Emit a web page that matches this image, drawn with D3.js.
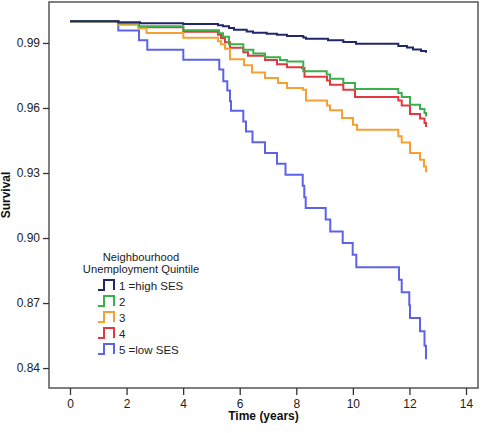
<!DOCTYPE html>
<html><head><meta charset="utf-8">
<script src="https://cdn.jsdelivr.net/npm/d3@7"></script>
<style>body{margin:0;background:#fff}svg{display:block}text{font-family:"Liberation Sans",Arial,sans-serif}</style>
</head><body><svg id="c" width="481" height="433"></svg>
<script>
const seriesNames = ["1 =high SES","2","3","4","5 =low SES"];
const seriesColors = ["#22266a","#3bb04a","#f5a030","#e03a40","#5c63e6"];
const xTicks = [0,2,4,6,8,10,12,14];
const yTicks = [0.84,0.87,0.90,0.93,0.96,0.99];

const t1 = [0,1.708,2.475,4.006,5.232,5.409,5.621,5.798,6.247,6.470,6.954,7.318,7.672,8.248,8.343,9.121,9.662,10.111,11.607,11.914,12.126,12.409,12.586];
const s1 = [1,0.9995,0.9991,0.9987,0.9982,0.9977,0.9969,0.9961,0.9953,0.9947,0.9943,0.9938,0.9932,0.9925,0.9920,0.9913,0.9905,0.9896,0.9886,0.9879,0.9870,0.9863,0.9855];
const t2 = [0,1.708,2.439,4.006,5.268,5.409,5.621,6.127,6.480,6.894,7.424,7.672,8.248,9.075,9.192,9.662,10.076,11.607,11.727,12.020,12.374,12.533,12.586];
const s2 = [1,0.9991,0.9977,0.9959,0.9945,0.9929,0.9894,0.9869,0.9851,0.9834,0.9821,0.9814,0.9769,0.9754,0.9735,0.9715,0.9688,0.9669,0.9651,0.9615,0.9595,0.9577,0.9561];
const t3 = [0,1.708,2.415,2.705,4.006,5.232,5.338,5.480,5.656,6.151,6.434,6.894,7.353,7.672,8.237,8.343,9.086,9.192,9.616,10.005,10.146,11.607,11.727,12.020,12.374,12.515,12.586];
const s3 = [1,0.9984,0.9968,0.9946,0.9924,0.9908,0.9894,0.9873,0.9825,0.9797,0.9764,0.9738,0.9715,0.9692,0.9684,0.9635,0.9611,0.9590,0.9554,0.9523,0.9500,0.9469,0.9441,0.9392,0.9361,0.9330,0.9303];
const t4 = [0,1.708,2.439,4.006,5.232,5.338,5.480,5.656,6.127,6.293,6.894,7.318,7.672,8.202,8.290,9.086,9.192,9.662,10.076,11.607,11.727,12.020,12.374,12.533,12.586];
const s4 = [1,0.9990,0.9972,0.9952,0.9938,0.9923,0.9903,0.9878,0.9857,0.9841,0.9821,0.9802,0.9788,0.9784,0.9744,0.9727,0.9707,0.9684,0.9651,0.9634,0.9611,0.9572,0.9551,0.9531,0.9512];
const t5 = [0,1.708,2.439,2.733,4.006,5.278,5.420,5.561,5.656,5.692,6.127,6.222,6.452,6.894,7.318,7.619,8.227,8.283,8.333,9.040,9.202,9.641,9.994,10.122,11.631,11.727,11.995,12.020,12.374,12.533,12.586];
const s5 = [1,0.9958,0.9912,0.9869,0.9823,0.9777,0.9723,0.9681,0.9631,0.9587,0.9538,0.9491,0.9442,0.9392,0.9343,0.9292,0.9241,0.9188,0.9138,0.9086,0.9030,0.8977,0.8923,0.8865,0.8807,0.8750,0.8690,0.8631,0.8570,0.8503,0.8441];

const times = [t1,t2,t3,t4,t5];
const survs = [s1,s2,s3,s4,s5];

const svg = d3.select("#c");
const L = 49, R = 478, T = 2, B = 388;
const x = d3.scaleLinear().domain([-0.742, 14.424]).range([L, R]);
const y = d3.scaleLinear().domain([0.8308, 1.0089]).range([B, T]);

const line = d3.line().x(d => x(d[0])).y(d => y(d[1])).curve(d3.curveStepAfter);
const order = [4,3,2,1,0];
order.forEach(i => {
  const pts = times[i].map((t, k) => [t, survs[i][k]]);
  svg.append("path").attr("d", line(pts)).attr("fill", "none")
    .attr("stroke", seriesColors[i]).attr("stroke-width", 2);
});

svg.append("rect").attr("x", L).attr("y", T).attr("width", R - L).attr("height", B - T)
  .attr("fill", "none").attr("stroke", "#555").attr("stroke-width", 1.5);

const xAxis = svg.append("g").attr("transform", `translate(0,${B})`)
  .call(d3.axisBottom(x).tickValues(xTicks).tickSize(7).tickSizeOuter(0).tickPadding(4).tickFormat(d3.format("d")));
xAxis.select(".domain").remove();
const yAxis = svg.append("g").attr("transform", `translate(${L},0)`)
  .call(d3.axisLeft(y).tickValues(yTicks).tickSize(6).tickSizeOuter(0).tickPadding(3).tickFormat(d3.format(".2f")));
yAxis.select(".domain").remove();
svg.selectAll(".tick line").attr("stroke", "#333").attr("stroke-width", 1.3);
svg.selectAll(".tick text").attr("font-size", 12).attr("fill", "#222")
  .attr("font-family", "'Liberation Sans', Arial, sans-serif");

svg.append("text").attr("x", (L + R) / 2).attr("y", 420).attr("text-anchor", "middle")
  .attr("font-size", 12).attr("font-weight", "bold").attr("fill", "#111").text("Time (years)");
svg.append("text").attr("transform", `translate(10,${(T + B) / 2}) rotate(-90)`).attr("text-anchor", "middle")
  .attr("font-size", 12).attr("font-weight", "bold").attr("fill", "#111").text("Survival");

const lg = svg.append("g");
lg.append("text").attr("x", 141).attr("y", 260.5).attr("text-anchor", "middle").attr("font-size", 11.2).attr("fill", "#222").text("Neighbourhood");
lg.append("text").attr("x", 141).attr("y", 273).attr("text-anchor", "middle").attr("font-size", 11.2).attr("fill", "#222").text("Unemployment Quintile");
seriesNames.forEach((n, i) => {
  const cy = 285 + i * 16;
  lg.append("path").attr("d", `M98,${cy + 5}H104V${cy - 5}H114V${cy + 5}`)
    .attr("fill", "none").attr("stroke", seriesColors[i]).attr("stroke-width", 2);
  lg.append("text").attr("x", 119).attr("y", cy + 4.5).attr("font-size", 11.5).attr("fill", "#222").text(n);
});
</script></body></html>
